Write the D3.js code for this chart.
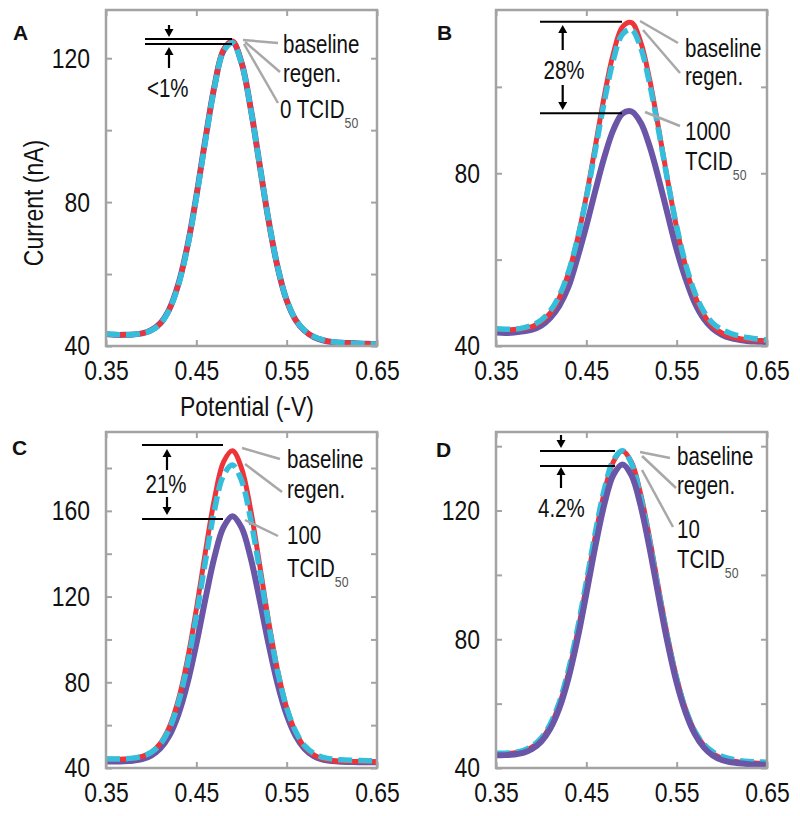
<!DOCTYPE html>
<html><head><meta charset="utf-8">
<script src="https://cdn.jsdelivr.net/npm/d3@7"></script>
<style>
body{margin:0;background:#fff;}
svg text{font-family:"Liberation Sans Narrow","Arial Narrow","Liberation Sans",Arial,sans-serif;fill:#111;}
</style></head><body>
<svg id="chart" width="800" height="816"></svg>
<script>
// ---- data ----
const potential = [0.35,0.36,0.37,0.38,0.39,0.40,0.41,0.42,0.43,0.44,0.45,0.46,0.47,0.48,0.49,0.50,0.51,0.52,0.53,0.54,0.55,0.56,0.57,0.58,0.59,0.60,0.61,0.62,0.63,0.64,0.65];

const A_baseline = [43.3,43.1,43.1,43.2,43.5,44.3,46.2,50.1,57.0,67.5,81.6,97.5,112.3,122.4,124.8,118.9,106.3,90.4,74.8,61.8,52.6,47.2,44.2,42.5,41.6,41.1,40.9,40.8,40.7,40.6,40.5];
const A_regen    = [43.4,43.2,43.1,43.2,43.5,44.3,46.1,50.0,56.8,67.2,81.2,97.0,111.8,121.9,124.3,118.6,106.2,90.5,75.0,62.0,52.8,47.3,44.3,42.6,41.7,41.2,41.0,40.8,40.7,40.6,40.5];
const A_target   = [43.3,43.1,43.1,43.2,43.5,44.4,46.3,50.2,57.1,67.6,81.6,97.4,112.1,122.1,124.5,118.8,106.3,90.5,74.9,61.9,52.7,47.2,44.2,42.5,41.6,41.1,40.9,40.8,40.7,40.6,40.5];

const B_baseline = [43.9,43.8,43.8,44.0,44.5,45.6,47.6,51.1,56.7,64.6,74.7,86.3,98.0,107.8,113.9,114.9,110.5,101.8,90.4,78.4,67.4,58.4,51.7,47.3,44.5,43.0,42.1,41.7,41.4,41.3,41.2];
const B_regen    = [44.0,43.9,43.9,44.2,44.8,46.0,48.1,51.6,57.0,64.6,74.3,85.4,96.7,106.3,112.2,113.3,109.2,100.8,89.9,78.3,67.7,58.9,52.4,48.0,45.3,43.8,42.9,42.3,41.9,41.6,41.4];
const B_target   = [43.1,43.0,43.1,43.4,43.8,44.7,46.5,49.3,53.6,60.3,67.8,76.0,83.8,90.1,93.8,94.3,91.8,86.3,78.8,70.5,62.3,55.5,50.0,46.3,44.0,42.6,41.8,41.4,41.1,41.0,40.9];

const C_baseline = [44.1,44.1,44.2,44.5,45.4,47.3,51.4,59.0,71.6,90.2,114.0,140.7,165.4,182.7,188.0,180.0,160.8,135.1,108.6,85.6,68.1,56.6,49.7,46.1,44.3,43.5,43.1,43.0,43.0,42.9,42.9];
const C_regen    = [44.3,44.2,44.3,44.6,45.5,47.3,51.1,58.2,70.3,88.0,110.9,136.4,160.2,176.5,181.4,174.2,156.4,132.5,107.2,85.0,68.2,57.0,50.3,46.8,45.0,44.2,43.8,43.6,43.5,43.4,43.4];
const C_target   = [43.0,43.0,43.1,43.4,44.1,45.8,49.1,55.0,64.9,79.3,97.9,118.8,138.3,152.3,157.5,152.3,138.3,118.7,97.8,79.2,64.8,54.9,48.9,45.5,43.9,43.2,42.9,42.8,42.7,42.7,42.7];

const D_baseline = [44.5,44.5,44.7,45.2,46.5,48.9,53.0,59.6,69.2,81.8,96.6,112.1,125.7,135.2,138.5,135.0,125.3,111.5,95.8,80.8,68.0,58.2,51.4,47.1,44.5,43.1,42.3,41.9,41.6,41.5,41.4];
const D_regen    = [44.6,44.6,44.8,45.4,46.8,49.3,53.6,60.4,70.2,82.9,97.8,113.2,126.6,135.7,138.6,134.6,124.5,110.6,95.0,80.2,67.7,58.1,51.5,47.4,45.0,43.6,42.8,42.3,42.0,41.9,41.8];
const D_target   = [44.0,44.0,44.2,44.7,45.9,48.2,52.2,58.5,67.7,79.8,94.1,108.9,122.0,131.1,134.3,130.9,121.6,108.3,93.3,78.8,66.5,57.2,50.6,46.4,43.9,42.5,41.8,41.5,41.2,41.1,41.0];

const xTicks = [0.35,0.45,0.55,0.65];
const A_yTicks = [40,60,80,100,120], A_yLabels = [40,80,120];
const B_yTicks = [40,60,80,100],     B_yLabels = [40,80];
const C_yTicks = [40,60,80,100,120,140,160,180], C_yLabels = [40,80,120,160];
const D_yTicks = [40,60,80,100,120,140], D_yLabels = [40,80,120];

const A_texts = ["baseline","regen.","0 TCID"];
const B_texts = ["baseline","regen.","1000","TCID"];
const C_texts = ["baseline","regen.","100","TCID"];
const D_texts = ["baseline","regen.","10","TCID"];
const pctLabels = ["<1%","28%","21%","4.2%"];

// ---- styles & layout ----
const styles = {
  baseline:{color:"#ee3339", width:5,   dash:null},
  regen:   {color:"#35bedb", width:5.5, dash:"14,6"},
  target:  {color:"#6a55a6", width:6,   dash:null}
};
const NARROW = 0.82;   // horizontal squeeze to mimic a condensed face
const W = 271, H = 336;
const ANN_SIZE = 25, SUB_SIZE = 15;
const svg = d3.select("#chart");

function narrowText(parent, x, y, str, size, anchor, rotate) {
  const t = parent.append("g")
    .attr("transform", `translate(${x},${y})${rotate ? " rotate(" + rotate + ")" : ""} scale(${NARROW},1)`)
    .append("text").attr("font-size", size).attr("text-anchor", anchor || "start");
  t.append("tspan").text(str);
  return t;
}

const panels = [
  {key:"A", ox:106, oy:10,  yMax:133.4, yTicks:A_yTicks, yLabels:A_yLabels,
   data:{baseline:A_baseline, regen:A_regen, target:A_target}, order:["target","baseline","regen"],
   letter:[13,40],
   ann:{hl:[[39,126,29],[39,126,34]], arrows:[[63,15,27],[63,58,37]], pct:[pctLabels[0],41,87,"start"],
        leaders:[[137,30,172,33],[139,32,174,62],[138,34,172,93]],
        texts:[[A_texts[0],177,43],[A_texts[1],177,72],[A_texts[2],174,108,true]]}},
  {key:"B", ox:496, oy:10,  yMax:117.8, yTicks:B_yTicks, yLabels:B_yLabels,
   data:{baseline:B_baseline, regen:B_regen, target:B_target}, order:["target","baseline","regen"],
   letter:[437,40],
   ann:{hl:[[44,126,11.7],[44,126,103.3]], arrows:[[66.7,40,15],[66.7,75,100]], pct:[pctLabels[1],68,69,"middle"],
        leaders:[[144,11,182,33],[147,20,184,63],[149,102,184,116]],
        texts:[[B_texts[0],189,47],[B_texts[1],189,75],[B_texts[2],189,130],[B_texts[3],189,160,true]]}},
  {key:"C", ox:106, oy:432, yMax:196.8, yTicks:C_yTicks, yLabels:C_yLabels,
   data:{baseline:C_baseline, regen:C_regen, target:C_target}, order:["target","baseline","regen"],
   letter:[12,455],
   ann:{hl:[[36,117,13],[36,117,87]], arrows:[[61,38,17],[61,65,83]], pct:[pctLabels[2],60,61,"middle"],
        leaders:[[136,16,174,27],[139,32,176,60],[139,88,172,104]],
        texts:[[C_texts[0],181,36],[C_texts[1],181,66],[C_texts[2],181,112],[C_texts[3],181,145,true]]}},
  {key:"D", ox:496, oy:432, yMax:144.4, yTicks:D_yTicks, yLabels:D_yLabels,
   data:{baseline:D_baseline, regen:D_regen, target:D_target}, order:["baseline","regen","target"],
   letter:[436,457],
   ann:{hl:[[44,119,19],[44,119,34]], arrows:[[65,3,16],[65,56,35]], pct:[pctLabels[3],42,85,"start"],
        leaders:[[144,20,174,26],[146,24,180,56],[146,38,177,95]],
        texts:[[D_texts[0],181,33],[D_texts[1],181,62],[D_texts[2],181,106],[D_texts[3],181,136,true]]}}
];

const frameColor = "#a3a3a3";

panels.forEach(p => {
  const g = svg.append("g").attr("transform", `translate(${p.ox},${p.oy})`);
  const x = d3.scaleLinear().domain([0.35,0.65]).range([0,W]);
  const y = d3.scaleLinear().domain([40,p.yMax]).range([H,0]);

  const line = d3.line()
    .x((d,i) => x(potential[i]))
    .y(d => y(d))
    .curve(d3.curveCatmullRom.alpha(0.5));

  // curves
  p.order.forEach(k => {
    const s = styles[k];
    g.append("path")
      .attr("d", line(p.data[k]))
      .attr("fill","none")
      .attr("stroke", s.color)
      .attr("stroke-width", s.width)
      .attr("stroke-linejoin","round")
      .attr("stroke-dasharray", s.dash);
  });

  // axes
  const styleAxis = sel => {
    sel.select(".domain").remove();
    sel.selectAll(".tick line").attr("stroke", frameColor).attr("stroke-width", 2);
    sel.selectAll(".tick text").attr("font-size", 28).attr("fill", "#111")
      .attr("transform", `scale(${NARROW},1)`);
  };
  g.append("g").attr("transform", `translate(0,${H})`)
    .call(d3.axisBottom(x).tickValues(xTicks).tickSize(-6).tickSizeOuter(0).tickPadding(14).tickFormat(d3.format(".2f")))
    .call(styleAxis);
  g.append("g")
    .call(d3.axisTop(x).tickValues(xTicks).tickSize(-6).tickSizeOuter(0).tickFormat(""))
    .call(styleAxis);
  g.append("g")
    .call(d3.axisLeft(y).tickValues(p.yTicks).tickSize(-6).tickSizeOuter(0).tickPadding(16 / NARROW)
      .tickFormat(d => p.yLabels.includes(d) ? d : ""))
    .call(styleAxis);
  g.append("g").attr("transform", `translate(${W},0)`)
    .call(d3.axisRight(y).tickValues(p.yTicks).tickSize(-6).tickSizeOuter(0).tickFormat(""))
    .call(styleAxis);

  g.append("rect").attr("width", W).attr("height", H)
    .attr("fill","none").attr("stroke", frameColor).attr("stroke-width", 2.5);

  // annotations
  const a = p.ann;
  a.hl.forEach(h => g.append("line").attr("x1",h[0]).attr("x2",h[1]).attr("y1",h[2]).attr("y2",h[2])
    .attr("stroke","#000").attr("stroke-width",2));
  a.arrows.forEach(ar => {
    const [ax, from, to] = ar;
    const dir = to > from ? 1 : -1;
    const base = to - dir*8;
    g.append("line").attr("x1",ax).attr("x2",ax).attr("y1",from).attr("y2",base)
      .attr("stroke","#000").attr("stroke-width",2.2);
    g.append("path").attr("d", `M${ax},${to}L${ax-4.5},${base}L${ax+4.5},${base}Z`).attr("fill","#000");
  });
  narrowText(g, a.pct[1], a.pct[2], a.pct[0], ANN_SIZE, a.pct[3]);
  a.leaders.forEach(l => g.append("line").attr("x1",l[0]).attr("y1",l[1]).attr("x2",l[2]).attr("y2",l[3])
    .attr("stroke","#a8a8a8").attr("stroke-width",2.5));
  a.texts.forEach(t => {
    const tx = narrowText(g, t[1], t[2], t[0], ANN_SIZE, "start");
    if (t[3]) tx.append("tspan").attr("font-size",SUB_SIZE).attr("dy",10).attr("fill","#555").text("50");
  });

  // panel letter
  svg.append("text").attr("x",p.letter[0]).attr("y",p.letter[1])
    .style("font-family",'"Liberation Sans",Arial,sans-serif').attr("font-weight","bold")
    .attr("font-size",21).text(p.key);
});

// axis titles (panel A)
narrowText(svg, 43, 203, "Current (nA)", 28, "middle", -90);
narrowText(svg, 247, 416, "Potential (-V)", 28, "middle");
</script>
</body></html>
